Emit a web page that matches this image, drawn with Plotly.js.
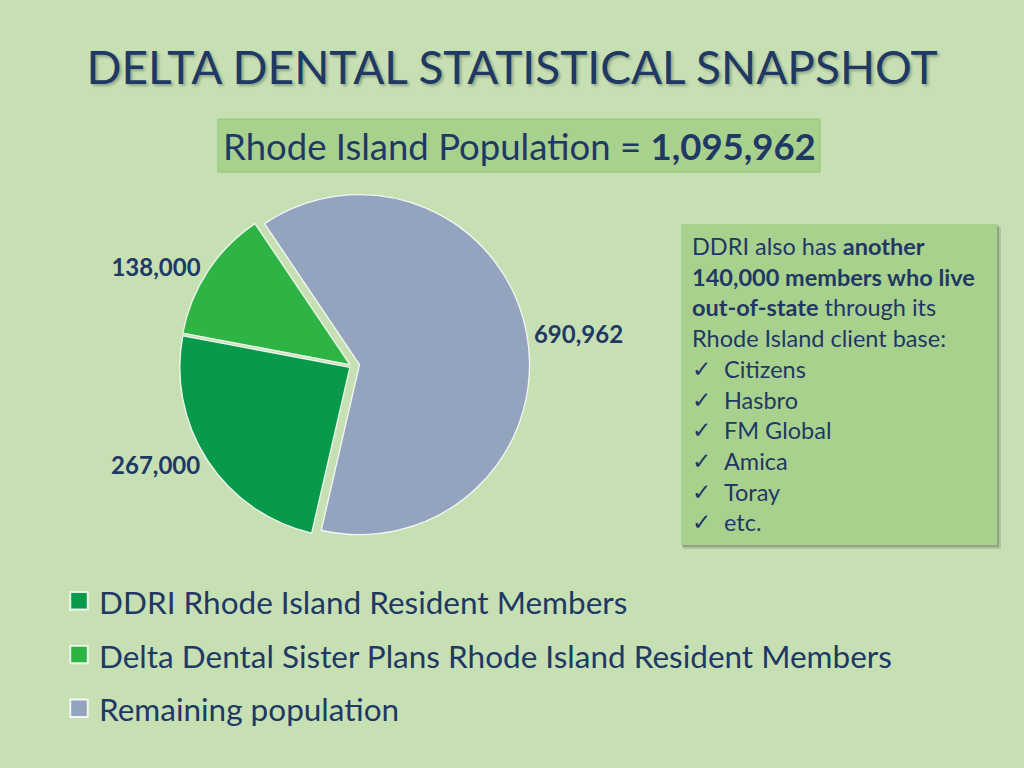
<!DOCTYPE html>
<html><head><meta charset="utf-8">
<script src="https://cdn.plot.ly/plotly-3.0.1.min.js"></script>
<style>
html,body{margin:0;padding:0;background:#C6E0B4;}
#chart{width:1024px;height:768px;}
.legendpie{transform:translate(20px,2px) scale(1.45);}
</style>
</head><body><div id="chart"></div>
<script>
// ---- data ----
const categories = [
  "DDRI Rhode Island Resident Members",
  "Delta Dental Sister Plans Rhode Island Resident Members",
  "Remaining population"
];
const members = [267000, 138000, 690962];
const sliceColors = ["#08994A", "#2DB444", "#94A4BF"];
const slicePull = [0.015, 0.015, 0.045];
const totalPopulation = 1095962;
const outOfStateMembers = 140000;
const clientBase = ["Citizens", "Hasbro", "FM Global", "Amica", "Toray", "etc."];
const titleText = "DELTA DENTAL STATISTICAL SNAPSHOT";

// ---- layout helpers ----
const W = 1024, H = 768;
const px = x => x / W;
const py = y => 1 - y / H;
const navy = "#1F3864";
const FONT = "Lato, 'Open Sans', sans-serif";
const fmt = v => v.toLocaleString("en-US");

// pie geometry
const pieCx = 352, pieCy = 366, pieR = 170;
const maxPull = Math.max(...slicePull);
const half = pieR * (1 + maxPull);

const pie = {
  type: "pie",
  labels: categories.map(c => `<span style="font-size:31.5px">${c}</span>`),
  values: members,
  sort: false,
  direction: "clockwise",
  rotation: 193,
  pull: slicePull,
  marker: {colors: sliceColors, line: {color: "rgba(255,255,255,0.85)", width: 1.3}},
  textposition: "outside",
  texttemplate: "<b>%{value:,}</b>",
  outsidetextfont: {family: FONT, size: 24, color: navy},
  hoverinfo: "label+value",
  domain: {x: [px(pieCx - half), px(pieCx + half)], y: [py(pieCy + half), py(pieCy - half)]},
  showlegend: true
};

const shapes = [
  // subtitle box
  {type: "rect", xref: "paper", yref: "paper", x0: px(218), x1: px(820), y0: py(172), y1: py(119),
   fillcolor: "#A9D18E", line: {color: "#93C573", width: 1}, layer: "below"},
  // right box shadow
  {type: "rect", xref: "paper", yref: "paper", x0: px(683), x1: px(1001), y0: py(549), y1: py(227),
   fillcolor: "rgba(60,70,60,0.18)", line: {width: 0}, layer: "below"},
  {type: "rect", xref: "paper", yref: "paper", x0: px(682), x1: px(999), y0: py(547), y1: py(225),
   fillcolor: "rgba(60,70,60,0.25)", line: {width: 0}, layer: "below"},
  // right box
  {type: "rect", xref: "paper", yref: "paper", x0: px(681), x1: px(997), y0: py(545), y1: py(224),
   fillcolor: "#A9D18E", line: {width: 0}, layer: "below"}
];

const annotations = [];
annotations.push({
  xref: "paper", yref: "paper", x: px(519), y: py(146), xanchor: "center", yanchor: "middle",
  showarrow: false, text: `Rhode Island Population = <b>${fmt(totalPopulation)}</b>`,
  font: {family: FONT, size: 36.5, color: navy}
});

const boxLines = [
  "DDRI also has <b>another</b>",
  `<b>${fmt(outOfStateMembers)} members who live</b>`,
  "<b>out-of-state</b> through its",
  "Rhode Island client base:"
];
const lineY0 = 246, lineStep = 30.7;
boxLines.forEach((t, i) => annotations.push({
  xref: "paper", yref: "paper", x: px(690), y: py(lineY0 + i * lineStep), xanchor: "left", yanchor: "middle",
  showarrow: false, text: t, font: {family: FONT, size: 23.5, color: navy}
}));
clientBase.forEach((t, j) => {
  const y = py(lineY0 + (boxLines.length + j) * lineStep);
  annotations.push({xref: "paper", yref: "paper", x: px(690), y: y, xanchor: "left", yanchor: "middle",
    showarrow: false, text: "✓", font: {family: "DejaVu Sans", size: 23, color: navy}});
  annotations.push({xref: "paper", yref: "paper", x: px(722), y: y, xanchor: "left", yanchor: "middle",
    showarrow: false, text: t, font: {family: FONT, size: 23.5, color: navy}});
});

const layout = {
  width: W, height: H,
  margin: {l: 0, r: 0, t: 0, b: 0},
  paper_bgcolor: "#C6E0B4",
  plot_bgcolor: "#C6E0B4",
  title: {
    text: titleText, x: 0.5, xanchor: "center", y: py(68), yanchor: "middle",
    font: {family: FONT, size: 46, color: "#203864", shadow: "2px 2px 3px rgba(0,0,0,0.28)"}
  },
  showlegend: true,
  legend: {
    x: px(59), xanchor: "left", y: py(567), yanchor: "top",
    bgcolor: "rgba(0,0,0,0)", borderwidth: 0,
    font: {family: FONT, size: 39, color: navy},
    itemwidth: 30, itemclick: false, itemdoubleclick: false
  },
  shapes: shapes,
  annotations: annotations
};

Plotly.newPlot("chart", [pie], layout, {displayModeBar: false});
</script>
</body></html>
